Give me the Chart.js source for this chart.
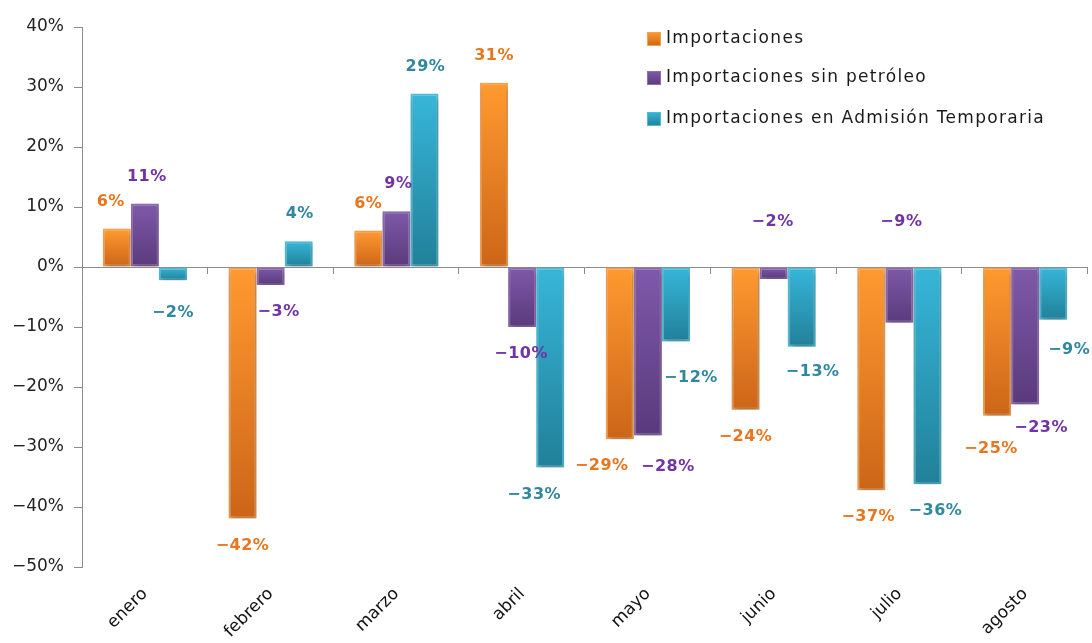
<!DOCTYPE html>
<html>
<head>
<meta charset="utf-8">
<script src="https://cdn.jsdelivr.net/npm/chart.js@4.4.1/dist/chart.umd.min.js"></script>
<style>
  html, body { margin: 0; padding: 0; background: #ffffff; }
  #wrap { width: 1092px; height: 643px; position: relative; }
</style>
</head>
<body>
<div id="wrap"><canvas id="c" width="1092" height="643"></canvas></div>
<script>
// ---- data ----
const months = ['enero', 'febrero', 'marzo', 'abril', 'mayo', 'junio', 'julio', 'agosto'];
const seriesNames = ['Importaciones', 'Importaciones sin petróleo', 'Importaciones en Admisión Temporaria'];
const importaciones = [6.4, -41.9, 6.1, 30.7, -28.7, -23.8, -37.2, -24.8];
const sinPetroleo = [10.6, -3.0, 9.3, -10.0, -28.1, -2.0, -9.3, -22.9];
const admisionTemporal = [-2.2, 4.3, 28.9, -33.4, -12.4, -13.3, -36.2, -8.8];
const yTicks = [40, 30, 20, 10, 0, -10, -20, -30, -40, -50];

// ---- styles ----
const palette = [
  { top: '#FF9A30', bottom: '#CC6518', border: '#F9A04E', label: '#E8761E' },
  { top: '#7F59AA', bottom: '#5A3A7B', border: '#8D6DB3', label: '#7233A6' },
  { top: '#37B6D9', bottom: '#218099', border: '#4FBDD8', label: '#2F87A0' }
];
// label nudges (screen px) per series / month
const labelDx = [
  [-6, 0, 0, 0, -18, 0, -3, -6],
  [2, 8, 2, -1, 20, -1, 2, 16],
  [0, 1, 1, -16, 15, 11, 8, 16]
];
const labelDy = [
  [0, 0, 0, 0, 0, 0, 0, 6],
  [0, 0, 0, 0, 4, 0, 0, -4],
  [6, 0, 0, 0, 9, -2, 0, 3]
];
// labels placed above the zero line instead of beyond the bar end
const labelAboveZero = [[], [5, 6], []];

const minus = v => (v < 0 ? '\u2212' + Math.abs(v) : '' + v);

function barGradient(ctx, i) {
  const chart = ctx.chart;
  const area = chart.chartArea;
  if (!area || ctx.type !== 'data') return palette[i].top;
  const y = chart.scales.y;
  const v = ctx.raw;
  const y1 = y.getPixelForValue(Math.max(v, 0));
  const y2 = y.getPixelForValue(Math.min(v, 0));
  const g = chart.ctx.createLinearGradient(0, y1, 0, Math.max(y2, y1 + 1));
  g.addColorStop(0, palette[i].top);
  g.addColorStop(1, palette[i].bottom);
  return g;
}

const seriesData = [importaciones, sinPetroleo, admisionTemporal];
const datasets = seriesData.map((d, i) => ({
  label: seriesNames[i],
  data: d,
  backgroundColor: ctx => barGradient(ctx, i),
  borderColor: palette[i].border,
  borderWidth: 2,
  borderSkipped: false,
  categoryPercentage: 0.67,
  barPercentage: 1.0
}));

const shadowPlugin = {
  id: 'shadow',
  beforeDatasetsDraw(chart) {
    const c = chart.ctx;
    c.save();
    c.shadowColor = 'rgba(0,0,0,0.3)';
    c.shadowBlur = 5;
    c.shadowOffsetX = 1;
    c.shadowOffsetY = 3;
  },
  afterDatasetsDraw(chart) {
    chart.ctx.restore();
  }
};

const decorPlugin = {
  id: 'decor',
  afterDatasetsDraw(chart) {
    const c = chart.ctx;
    const y = chart.scales.y;
    const area = chart.chartArea;
    const y0 = y.getPixelForValue(0);
    // category tick marks on zero line
    const step = (area.right - area.left) / months.length;
    c.save();
    c.strokeStyle = '#8c8c8c';
    c.lineWidth = 1;
    c.beginPath();
    for (let k = 1; k <= months.length; k++) {
      const px = Math.round(area.left + k * step) - 0.5;
      c.moveTo(px, y0);
      c.lineTo(px, y0 + 7);
    }
    c.stroke();
    c.restore();

    // data labels
    c.save();
    c.font = 'bold 16px "DejaVu Sans"';
    c.textAlign = 'center';
    c.textBaseline = 'middle';
    try { c.letterSpacing = '0.5px'; } catch (e) {}
    chart.data.datasets.forEach((ds, i) => {
      const meta = chart.getDatasetMeta(i);
      meta.data.forEach((bar, j) => {
        const v = ds.data[j];
        let ly;
        if (labelAboveZero[i].includes(j)) {
          ly = y0 - 45;
        } else if (v >= 0) {
          ly = bar.y - 27;
        } else {
          ly = bar.y + 27;
        }
        ly += labelDy[i][j];
        const lx = bar.x + labelDx[i][j];
        c.fillStyle = palette[i].label;
        c.fillText(minus(Math.round(v)) + '%', lx, ly);
      });
    });
    c.restore();
  },
  afterDraw(chart) {
    // legend
    const c = chart.ctx;
    c.save();
    c.font = '17px "DejaVu Sans"';
    c.textBaseline = 'middle';
    c.textAlign = 'left';
    try { c.letterSpacing = '1.3px'; } catch (e) {}
    const lx = 647, ly = [39, 78, 119];
    seriesNames.forEach((name, i) => {
      const g = c.createLinearGradient(0, ly[i] - 7, 0, ly[i] + 7);
      g.addColorStop(0, palette[i].top);
      g.addColorStop(1, palette[i].bottom);
      c.fillStyle = g;
      c.fillRect(lx, ly[i] - 7, 14, 14);
      c.strokeStyle = palette[i].border;
      c.lineWidth = 1;
      c.strokeRect(lx + 0.5, ly[i] - 6.5, 13, 13);
      c.fillStyle = '#1a1a1a';
      c.fillText(name, lx + 19, ly[i]);
    });
    c.restore();
  }
};

Chart.defaults.font.family = '"DejaVu Sans"';
Chart.defaults.color = '#222';

new Chart(document.getElementById('c'), {
  type: 'bar',
  data: { labels: months, datasets },
  options: {
    responsive: false,
    animation: false,
    layout: { padding: { top: 27, right: 4, left: 0, bottom: 0 } },
    plugins: { legend: { display: false }, tooltip: { enabled: false } },
    scales: {
      x: {
        grid: { display: false },
        border: { display: false },
        ticks: {
          minRotation: 45, maxRotation: 45,
          font: { size: 17 }, color: '#111', padding: 9
        },
        afterFit(s) { s.height = 76; }
      },
      y: {
        min: -50, max: 40,
        afterBuildTicks(s) { s.ticks = yTicks.map(v => ({ value: v })); },
        ticks: {
          font: { size: 17 }, color: '#222', padding: 10,
          callback: v => minus(v) + '%'
        },
        grid: {
          color: c => (c.tick && c.tick.value === 0 ? '#8c8c8c' : 'rgba(0,0,0,0)'),
          tickColor: '#8c8c8c',
          tickLength: 8,
          drawTicks: true,
          lineWidth: 1
        },
        border: { display: true, color: '#8c8c8c', width: 1 },
        afterFit(s) { s.width = 82; }
      }
    }
  },
  plugins: [shadowPlugin, decorPlugin]
});
</script>
</body>
</html>
